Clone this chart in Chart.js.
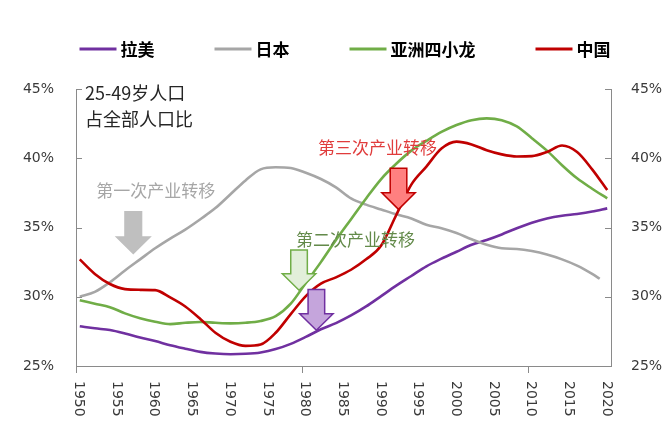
<!DOCTYPE html>
<html>
<head>
<meta charset="utf-8">
<script src="https://cdn.jsdelivr.net/npm/chart.js@4.4.1/dist/chart.umd.min.js"></script>
<style>
  html, body { margin: 0; padding: 0; background: #fff; }
  #wrap { width: 669px; height: 423px; }
</style>
</head>
<body>
<div id="wrap"><canvas id="c" width="669" height="423"></canvas></div>
<script>
// Share of population aged 25-49 (%), two-year steps
const years = [1950, 1952, 1954, 1956, 1958, 1960, 1962, 1964, 1966, 1968,
               1970, 1972, 1974, 1976, 1978, 1980, 1982, 1984, 1986, 1988,
               1990, 1992, 1994, 1996, 1998, 2000, 2002, 2004, 2006, 2008,
               2010, 2012, 2014, 2016, 2018, 2020];
const japanYears = [1950, 1952, 1954, 1956, 1958, 1960, 1962, 1964, 1966, 1968,
               1970, 1972, 1974, 1976, 1978, 1980, 1982, 1984, 1986, 1988,
               1990, 1992, 1994, 1996, 1998, 2000, 2002, 2004, 2006, 2008,
               2010, 2012, 2014, 2016, 2018, 2019];

const latam  = [27.87, 27.72, 27.60, 27.35, 27.05, 26.80, 26.50, 26.25, 26.02, 25.90,
                25.85, 25.88, 25.98, 26.22, 26.60, 27.10, 27.65, 28.10, 28.65, 29.30,
                30.05, 30.80, 31.50, 32.20, 32.75, 33.25, 33.75, 34.10, 34.50, 34.95,
                35.35, 35.65, 35.85, 35.98, 36.15, 36.38];
const japan  = [30.00, 30.35, 31.05, 31.90, 32.70, 33.50, 34.20, 34.85, 35.60, 36.40,
                37.40, 38.40, 39.20, 39.35, 39.30, 38.95, 38.50, 37.90, 37.10, 36.65,
                36.30, 35.95, 35.65, 35.20, 34.95, 34.60, 34.15, 33.75, 33.50, 33.45,
                33.30, 33.05, 32.70, 32.25, 31.65, 31.30];
const tigers = [29.75, 29.50, 29.25, 28.80, 28.45, 28.20, 28.02, 28.12, 28.18, 28.12,
                28.08, 28.12, 28.25, 28.60, 29.50, 31.00, 32.50, 34.10, 35.60, 37.10,
                38.50, 39.60, 40.55, 41.25, 41.90, 42.40, 42.75, 42.88, 42.75, 42.30,
                41.45, 40.55, 39.50, 38.55, 37.80, 37.10];
const china  = [32.70, 31.65, 30.92, 30.55, 30.50, 30.48, 29.95, 29.30, 28.40, 27.40,
                26.75, 26.45, 26.55, 27.40, 28.75, 30.05, 30.95, 31.40, 31.95, 32.70,
                33.70, 35.90, 38.10, 39.40, 40.70, 41.20, 41.00, 40.58, 40.28, 40.13,
                40.15, 40.45, 40.92, 40.45, 39.20, 37.70];

const seriesNames = ['拉美', '日本', '亚洲四小龙', '中国'];
const yTickValues = [25, 30, 35, 40, 45];
const xLabelYears = [1950, 1955, 1960, 1965, 1970, 1975, 1980, 1985, 1990, 1995,
                     2000, 2005, 2010, 2015, 2020];
const xTickMarks = [1949.5, 1979.5, 2009.5];
const axisTitle = ['25-49岁人口', '占全部人口比'];

// Styling
const colors = { latam: '#7030a0', japan: '#a6a6a6', tigers: '#70ad47', china: '#c00000' };
const axisColor = '#8a8a8a';
const tickColor = '#3a3a3a';
const latinFont = '"DejaVu Sans", sans-serif';
const cjkFont = '"Noto Sans CJK SC", sans-serif';

// Industrial-transfer notes and arrows, anchored in data units
const notes = [
  { text: '第一次产业转移', x: 1960.1, y: 37.70, color: '#a6a6a6' },
  { text: '第二次产业转移', x: 1986.6, y: 34.16, color: '#638a4a' },
  { text: '第三次产业转移', x: 1989.5, y: 40.74, color: '#e03c3c' }
];
const arrows = [
  { x: 1957.1, from: 36.13, to: 33.13, fill: '#bfbfbf', stroke: '#bfbfbf' },
  { x: 1979.1, from: 33.37, to: 30.47, fill: '#e2efda', stroke: '#70ad47' },
  { x: 1981.4, from: 30.52, to: 27.58, fill: '#c5a5dc', stroke: '#7030a0' },
  { x: 1992.3, from: 39.27, to: 36.31, fill: '#ff8080', stroke: '#c00000' }
];

function points(xs, ys) { return xs.map((x, i) => ({ x: x, y: ys[i] })); }

function lineSet(label, xs, ys, color, order) {
  return {
    label: label, data: points(xs, ys), borderColor: color, backgroundColor: color,
    borderWidth: 2.6, pointRadius: 0, fill: false, order: order,
    cubicInterpolationMode: 'monotone', yAxisID: 'y'
  };
}

const decor = {
  id: 'decor',
  afterDatasetsDraw(chart) {
    const ctx = chart.ctx, xs = chart.scales.x, ys = chart.scales.y;
    // block arrows
    arrows.forEach(a => {
      const cx = xs.getPixelForValue(a.x);
      const top = ys.getPixelForValue(a.from);
      const tip = ys.getPixelForValue(a.to);
      const bh = 8.3, hh = 16.7, hl = 16.5;
      ctx.save();
      ctx.beginPath();
      ctx.moveTo(cx - bh, top);
      ctx.lineTo(cx + bh, top);
      ctx.lineTo(cx + bh, tip - hl);
      ctx.lineTo(cx + hh, tip - hl);
      ctx.lineTo(cx, tip);
      ctx.lineTo(cx - hh, tip - hl);
      ctx.lineTo(cx - bh, tip - hl);
      ctx.closePath();
      ctx.fillStyle = a.fill;
      ctx.fill();
      ctx.lineWidth = 1.5;
      ctx.lineJoin = 'miter';
      ctx.strokeStyle = a.stroke;
      ctx.stroke();
      ctx.restore();
    });
    // notes
    ctx.save();
    ctx.font = '17px ' + cjkFont;
    ctx.textAlign = 'center';
    ctx.textBaseline = 'middle';
    notes.forEach(n => {
      ctx.fillStyle = n.color;
      ctx.fillText(n.text, xs.getPixelForValue(n.x), ys.getPixelForValue(n.y));
    });
    ctx.restore();
  },
  afterDraw(chart) {
    const ctx = chart.ctx, area = chart.chartArea;
    const xs = chart.scales.x, ys = chart.scales.y, ys2 = chart.scales.y2;
    ctx.save();
    ctx.strokeStyle = axisColor;
    ctx.lineWidth = 1;
    // inward ticks on both value axes
    yTickValues.forEach(v => {
      const py = Math.round(ys.getPixelForValue(v)) + 0.5;
      ctx.beginPath();
      ctx.moveTo(area.left, py); ctx.lineTo(area.left + 6, py);
      ctx.stroke();
      const py2 = Math.round(ys2.getPixelForValue(v)) + 0.5;
      ctx.beginPath();
      ctx.moveTo(area.right - 6, py2); ctx.lineTo(area.right, py2);
      ctx.stroke();
    });
    // outward category ticks
    xTickMarks.forEach(t => {
      const px = Math.round(xs.getPixelForValue(t)) + 0.5;
      ctx.beginPath();
      ctx.moveTo(px, area.bottom); ctx.lineTo(px, area.bottom + 7);
      ctx.stroke();
    });
    // year labels, reading downward
    ctx.fillStyle = tickColor;
    ctx.font = '14px ' + latinFont;
    ctx.textAlign = 'left';
    ctx.textBaseline = 'middle';
    xLabelYears.forEach(yr => {
      const px = xs.getPixelForValue(yr);
      ctx.save();
      ctx.translate(px - 1, area.bottom + 15);
      ctx.rotate(Math.PI / 2);
      ctx.fillText(String(yr), 0, 0);
      ctx.restore();
    });
    // axis title inside the plot
    ctx.fillStyle = '#262626';
    ctx.font = '18px ' + cjkFont;
    ctx.textAlign = 'left';
    ctx.textBaseline = 'middle';
    ctx.fillText(axisTitle[0], area.left + 9, area.top + 4);
    ctx.fillText(axisTitle[1], area.left + 9, area.top + 30);
    // legend row
    const lineLen = 37, gap = 4, itemGap = 60, centerX = 345, rowY = 49;
    ctx.font = 'bold 17px ' + cjkFont;
    const widths = chart.data.datasets.map(d => ctx.measureText(d.label).width);
    const total = widths.reduce((s, w) => s + w + lineLen + gap, 0) + itemGap * (widths.length - 1);
    let x = centerX - total / 2;
    chart.data.datasets.forEach((d, i) => {
      ctx.strokeStyle = d.borderColor;
      ctx.lineWidth = 3;
      ctx.beginPath();
      ctx.moveTo(x, rowY); ctx.lineTo(x + lineLen, rowY);
      ctx.stroke();
      ctx.fillStyle = '#000';
      ctx.fillText(d.label, x + lineLen + gap, rowY + 0.5);
      x += lineLen + gap + widths[i] + itemGap;
    });
    ctx.restore();
  }
};

const valueAxis = (position, padding, width) => ({
  position: position, min: 25, max: 45,
  afterBuildTicks: s => { s.ticks = yTickValues.map(v => ({ value: v })); },
  ticks: { callback: v => v + '%', padding: padding, color: tickColor,
           font: { family: latinFont, size: 14 } },
  grid: { display: false, drawTicks: false },
  border: { color: axisColor, width: 1 },
  afterFit: s => { s.width = width; }
});

new Chart(document.getElementById('c'), {
  type: 'line',
  data: {
    datasets: [
      lineSet(seriesNames[0], years, latam, colors.latam, 3),
      lineSet(seriesNames[1], japanYears, japan, colors.japan, 2),
      lineSet(seriesNames[2], years, tigers, colors.tigers, 1),
      lineSet(seriesNames[3], years, china, colors.china, 0)
    ]
  },
  options: {
    responsive: false,
    animation: false,
    devicePixelRatio: 1,
    events: [],
    layout: { padding: { top: 89, left: 0, right: 0, bottom: 0 } },
    plugins: { legend: { display: false }, tooltip: { enabled: false } },
    scales: {
      x: {
        type: 'linear', min: 1949.5, max: 2020.5,
        ticks: { display: false },
        grid: { display: false, drawTicks: false },
        border: { color: axisColor, width: 1 },
        afterFit: s => { s.height = 57; }
      },
      y: valueAxis('left', 22, 76),
      y2: valueAxis('right', 20, 58)
    }
  },
  plugins: [decor]
});
</script>
</body>
</html>
